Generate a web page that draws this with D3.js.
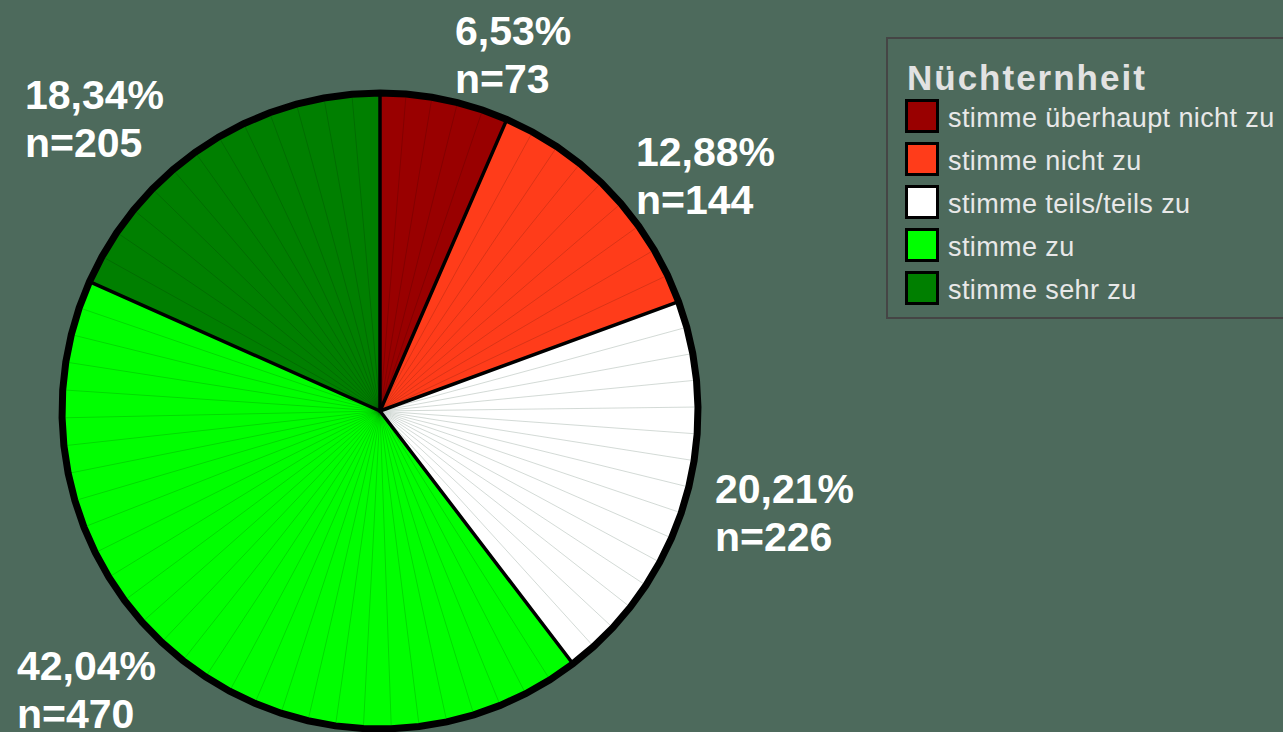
<!DOCTYPE html>
<html>
<head>
<meta charset="utf-8">
<script src="https://cdn.jsdelivr.net/npm/d3@7"></script>
<style>
  html, body { margin: 0; padding: 0; background: #4d6a5c; overflow: hidden; }
  svg { display: block; }
  text { font-family: "Liberation Sans", Arial, sans-serif; }
</style>
</head>
<body>
<script>
// ---- data ----
const categories = ["stimme überhaupt nicht zu", "stimme nicht zu", "stimme teils/teils zu", "stimme zu", "stimme sehr zu"];
const counts = [73, 144, 226, 470, 205];
const percentLabels = ["6,53%", "12,88%", "20,21%", "42,04%", "18,34%"];
const colors = ["#990000", "#ff3c1a", "#ffffff", "#00ff00", "#007f00"];
const legendTitle = "Nüchternheit";

// ---- layout ----
const W = 1283, H = 732;
const cx = 380, cy = 411, R = 318;
// label block layout: left x, first baseline
const labelLayout = [[455, 45], [636, 166], [715, 503], [17, 680], [25, 109]];

const svg = d3.select("body").append("svg").attr("width", W).attr("height", H);
svg.append("rect").attr("width", W).attr("height", H).attr("fill", "#4d6a5c");

const pie = d3.pie().sort(null).value(d => d);
const arcs = pie(counts);

const g = svg.append("g").attr("transform", `translate(${cx},${cy})`);

// polygonal slice path (segmented arc like the original renderer)
function ptsFor(a) {
  const span = a.endAngle - a.startAngle;
  const n = Math.max(1, Math.round(span / (5 * Math.PI / 180)));
  const pts = [];
  for (let i = 0; i <= n; i++) {
    const t = a.startAngle + span * i / n;
    pts.push([Math.sin(t) * R, -Math.cos(t) * R]);
  }
  return pts;
}
const line = d3.line();

arcs.forEach((a, i) => {
  const pts = ptsFor(a);
  g.append("path")
    .attr("d", line([[0, 0], ...pts]) + "Z")
    .attr("fill", colors[i])
    .attr("stroke", "none");
  // faint internal segment lines
  pts.slice(1, -1).forEach(p => {
    g.append("line")
      .attr("x1", 0).attr("y1", 0).attr("x2", p[0]).attr("y2", p[1])
      .attr("stroke", i === 2 ? "#c8d0cc" : "rgba(0,0,0,0.18)")
      .attr("stroke-width", 0.8);
  });
});

// slice separators
arcs.forEach(a => {
  const t = a.startAngle;
  g.append("line")
    .attr("x1", 0).attr("y1", 0)
    .attr("x2", Math.sin(t) * R).attr("y2", -Math.cos(t) * R)
    .attr("stroke", "#000").attr("stroke-width", 3.5).attr("stroke-linecap", "round");
});

// outer outline
const outer = [];
arcs.forEach(a => { const p = ptsFor(a); outer.push(...p.slice(0, -1)); });
g.append("path").attr("d", line(outer) + "Z")
  .attr("fill", "none").attr("stroke", "#000").attr("stroke-width", 7).attr("stroke-linejoin", "miter");

// labels
arcs.forEach((a, i) => {
  const [lx, ly] = labelLayout[i];
  const t = svg.append("text").attr("x", lx).attr("y", ly)
    .attr("fill", "#ffffff").attr("font-size", 41).attr("font-weight", "bold");
  t.append("tspan").attr("x", lx).attr("y", ly).text(percentLabels[i]);
  t.append("tspan").attr("x", lx).attr("y", ly + 48).text("n=" + counts[i]);
});

// legend
const lg = svg.append("g");
lg.append("rect").attr("x", 887).attr("y", 38).attr("width", 420).attr("height", 280)
  .attr("fill", "none").attr("stroke", "#454545").attr("stroke-width", 2);
lg.append("text").attr("x", 907).attr("y", 90)
  .attr("fill", "#e2e2e2").attr("font-size", 35).attr("font-weight", "bold")
  .attr("letter-spacing", 2).text(legendTitle);
const rowY = d3.scaleBand().domain(d3.range(categories.length)).range([99, 314]);
categories.forEach((c, i) => {
  const y = rowY(i);
  lg.append("rect").attr("x", 906.5).attr("y", y + 1.5).attr("width", 31).attr("height", 31)
    .attr("fill", colors[i]).attr("stroke", "#000").attr("stroke-width", 3);
  lg.append("text").attr("x", 948).attr("y", y + 28)
    .attr("fill", "#e8e8e8").attr("font-size", 27).attr("letter-spacing", 0.4).text(c);
});
</script>
</body>
</html>
